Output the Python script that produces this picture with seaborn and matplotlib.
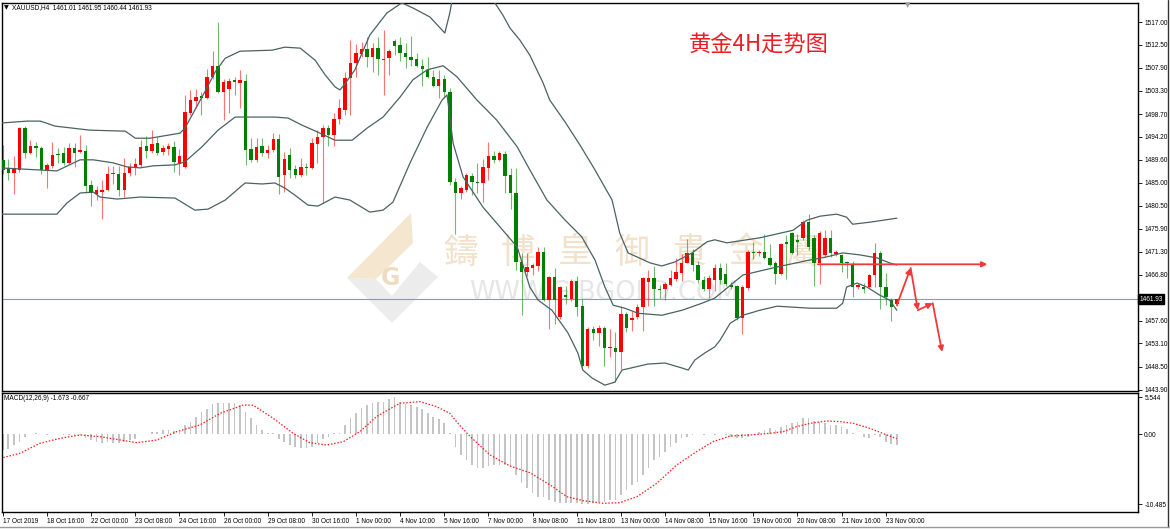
import numpy as np
import pandas as pd
import matplotlib
matplotlib.use("Agg")
import matplotlib.pyplot as plt
import matplotlib.transforms as mtransforms
from matplotlib.patches import Polygon
import seaborn as sns

# XAUUSD H4 candles, bar 0 = oldest (17 Oct 2019)
opens = [1489.6, 1488.0, 1487.0, 1487.6, 1496.0, 1491.0, 1492.4, 1492.0, 1487.6, 1488.4,
         1490.7, 1491.0, 1489.0, 1492.0, 1491.2, 1491.4, 1484.5, 1482.8, 1483.2, 1483.6,
         1486.7, 1486.8, 1483.6, 1487.0, 1488.2, 1488.6, 1492.3, 1491.4, 1493.0, 1491.2,
         1491.8, 1492.2, 1488.8, 1488.2, 1498.9, 1501.2, 1502.2, 1501.9, 1506.0, 1508.3,
         1503.0, 1503.7, 1505.4, 1504.9, 1505.3, 1491.8, 1489.6, 1492.3, 1491.0, 1491.6,
         1493.8, 1486.6, 1490.6, 1487.8, 1486.6, 1488.2, 1488.0, 1492.8, 1494.1, 1496.0,
         1494.6, 1497.7, 1499.5, 1505.9, 1508.8, 1510.6, 1511.6, 1510.0, 1511.8, 1509.4,
         1509.8, 1513.2, 1512.4, 1510.8, 1510.0, 1509.6, 1508.3, 1507.5, 1506.0, 1504.3,
         1505.7, 1503.0, 1485.2, 1483.0, 1483.6, 1486.4, 1485.2, 1485.0, 1488.0, 1490.4,
         1489.6, 1490.8, 1486.6, 1483.0, 1469.3, 1467.3, 1468.0, 1468.4, 1471.2, 1461.7,
         1466.3, 1458.3, 1462.8, 1461.9, 1465.5, 1460.5, 1448.6, 1456.0, 1455.2, 1456.2,
         1452.1, 1452.2, 1451.4, 1459.0, 1457.8, 1458.3, 1460.3, 1465.3, 1466.1, 1464.0,
         1464.0, 1464.7, 1465.9, 1467.1, 1469.1, 1471.1, 1468.7, 1465.7, 1463.9, 1465.7,
         1468.1, 1467.0, 1464.8, 1464.5, 1458.2, 1464.1, 1471.3, 1471.0, 1471.3, 1470.1,
         1469.1, 1467.0, 1473.2, 1475.0, 1473.6, 1474.0, 1477.2, 1474.0, 1469.1, 1470.7,
         1474.0, 1470.9, 1470.7, 1469.3, 1468.7, 1464.3, 1464.3, 1464.3, 1466.7, 1471.1,
         1464.3, 1461.7, 1461.01]
highs = [1492.5, 1489.8, 1490.4, 1496.2, 1496.4, 1493.6, 1493.2, 1492.4, 1489.0, 1493.2,
         1492.0, 1492.2, 1493.0, 1493.0, 1494.6, 1492.5, 1485.5, 1484.4, 1485.6, 1488.4,
         1488.4, 1488.4, 1490.0, 1489.0, 1490.0, 1493.6, 1494.4, 1495.6, 1494.2, 1492.6,
         1493.0, 1493.4, 1491.8, 1502.5, 1503.5, 1503.6, 1503.0, 1507.6, 1511.2, 1517.0,
         1505.6, 1505.8, 1506.0, 1507.5, 1506.6, 1494.0, 1494.0, 1494.0, 1492.6, 1495.0,
         1494.8, 1491.2, 1492.0, 1488.6, 1490.0, 1489.0, 1494.0, 1495.6, 1496.6, 1496.6,
         1499.0, 1501.6, 1507.0, 1513.4, 1512.6, 1513.0, 1514.0, 1512.8, 1514.0, 1515.4,
         1511.6, 1513.6, 1514.0, 1512.8, 1514.2, 1510.8, 1509.6, 1510.0, 1507.4, 1507.5,
         1506.5, 1503.8, 1486.0, 1484.4, 1487.0, 1487.0, 1489.0, 1489.8, 1493.2, 1491.4,
         1491.4, 1491.4, 1488.0, 1488.0, 1471.0, 1471.0, 1469.0, 1472.2, 1472.2, 1466.5,
         1468.0, 1464.6, 1464.6, 1466.0, 1466.6, 1462.0, 1456.4, 1456.6, 1456.8, 1456.6,
         1456.0, 1455.4, 1460.6, 1459.3, 1459.6, 1461.0, 1466.4, 1467.6, 1468.4, 1464.7,
         1465.4, 1467.7, 1470.0, 1470.9, 1473.9, 1471.8, 1469.4, 1466.6, 1466.8, 1468.8,
         1469.0, 1469.0, 1465.4, 1464.8, 1464.8, 1471.6, 1473.2, 1471.6, 1474.8, 1472.9,
         1469.5, 1473.1, 1474.6, 1475.2, 1474.8, 1477.6, 1478.8, 1474.6, 1475.4, 1475.6,
         1475.6, 1471.6, 1470.9, 1469.5, 1469.4, 1465.1, 1465.1, 1467.0, 1473.1, 1471.4,
         1467.1, 1462.1, 1461.95]
lows = [1486.8, 1485.6, 1482.8, 1487.2, 1490.0, 1490.8, 1490.2, 1486.8, 1484.0, 1488.0,
        1489.0, 1488.6, 1488.8, 1488.2, 1491.0, 1483.0, 1480.4, 1481.6, 1477.8, 1483.4,
        1484.8, 1482.4, 1482.2, 1486.4, 1486.6, 1488.2, 1490.0, 1491.0, 1490.6, 1490.6,
        1490.6, 1487.2, 1486.6, 1488.0, 1498.6, 1500.0, 1498.6, 1501.6, 1505.6, 1502.8,
        1497.6, 1499.0, 1502.4, 1500.0, 1488.6, 1489.2, 1489.2, 1490.4, 1490.0, 1491.2,
        1482.8, 1483.2, 1486.0, 1486.0, 1486.2, 1486.6, 1487.8, 1489.0, 1481.0, 1492.4,
        1492.4, 1496.8, 1498.6, 1498.6, 1506.0, 1510.0, 1508.0, 1507.0, 1506.4, 1502.5,
        1506.5, 1510.4, 1509.2, 1507.8, 1508.2, 1508.0, 1504.2, 1505.8, 1504.0, 1501.8,
        1501.8, 1484.6, 1474.8, 1481.8, 1483.2, 1482.6, 1483.0, 1481.2, 1485.6, 1489.0,
        1489.4, 1483.0, 1479.8, 1467.6, 1458.7, 1466.6, 1466.8, 1467.4, 1461.5, 1456.0,
        1457.0, 1458.0, 1461.0, 1461.5, 1458.6, 1448.0, 1448.2, 1453.8, 1452.6, 1448.6,
        1450.4, 1445.4, 1448.0, 1455.4, 1455.6, 1458.0, 1455.6, 1460.5, 1460.5, 1462.2,
        1461.7, 1464.6, 1465.6, 1465.6, 1469.0, 1467.4, 1465.2, 1463.6, 1462.2, 1463.6,
        1465.0, 1464.6, 1463.9, 1457.8, 1455.0, 1463.8, 1469.9, 1470.4, 1469.9, 1468.5,
        1464.9, 1466.7, 1466.0, 1470.8, 1470.6, 1473.6, 1471.6, 1464.5, 1465.0, 1470.3,
        1470.3, 1470.5, 1467.2, 1466.1, 1462.3, 1464.0, 1463.1, 1464.1, 1464.3, 1459.9,
        1460.7, 1457.5, 1460.44]
closes = [1487.6, 1487.0, 1488.0, 1496.0, 1491.0, 1492.3, 1492.0, 1487.6, 1488.6, 1490.6,
          1490.5, 1489.0, 1492.0, 1491.0, 1491.6, 1484.3, 1483.0, 1483.6, 1483.6, 1486.8,
          1486.9, 1483.6, 1487.0, 1488.2, 1488.8, 1492.2, 1491.4, 1492.7, 1491.0, 1492.0,
          1492.4, 1489.2, 1490.4, 1499.1, 1501.5, 1502.0, 1501.8, 1506.0, 1508.3, 1503.0,
          1505.0, 1505.3, 1505.1, 1505.4, 1491.6, 1489.6, 1492.2, 1491.0, 1491.6, 1493.8,
          1486.2, 1489.8, 1487.6, 1486.6, 1488.2, 1488.0, 1493.0, 1494.1, 1496.0, 1494.6,
          1497.7, 1499.9, 1505.9, 1508.8, 1510.8, 1511.6, 1510.0, 1511.8, 1509.6, 1509.6,
          1511.2, 1512.2, 1510.8, 1510.0, 1509.4, 1508.3, 1507.7, 1506.0, 1504.3, 1505.7,
          1503.1, 1485.2, 1483.0, 1484.0, 1486.6, 1485.2, 1485.0, 1488.2, 1490.4, 1489.6,
          1491.0, 1486.4, 1483.0, 1469.3, 1467.3, 1468.3, 1468.6, 1471.2, 1461.7, 1466.3,
          1461.7, 1464.3, 1462.3, 1465.5, 1460.3, 1448.6, 1456.0, 1455.2, 1456.2, 1452.2,
          1452.4, 1451.4, 1459.0, 1456.2, 1458.2, 1460.3, 1466.1, 1466.1, 1464.0, 1463.8,
          1464.9, 1466.1, 1467.3, 1469.1, 1471.1, 1468.7, 1465.7, 1463.9, 1466.1, 1468.1,
          1465.7, 1465.0, 1464.4, 1458.2, 1464.3, 1471.3, 1471.0, 1471.3, 1470.1, 1468.7,
          1467.0, 1472.9, 1472.8, 1471.1, 1473.2, 1477.2, 1472.2, 1469.1, 1475.0, 1474.1,
          1471.1, 1471.3, 1469.1, 1469.0, 1464.3, 1464.7, 1463.9, 1466.7, 1471.1, 1464.3,
          1462.3, 1460.3, 1461.93]

# Bollinger bands (20, 2): (bar, price)
upper_bars = [-0.5, 4.4, 6.8, 9.5, 15.8, 22.2, 24.0, 26.7, 32.1, 33.0, 34.8, 36.6, 38.5, 40.3,
              43.0, 48.8, 51.1, 53.9, 56.6, 58.4, 60.2, 61.1, 62.0, 63.8, 66.5, 69.6, 72.3,
              74.3, 77.4, 80.1, 81.0, 81.6, 84.7, 88.8, 90.6, 91.9, 93.7, 95.5, 97.9, 99.1,
              101.9, 104.6, 107.3, 110.4, 111.8, 113.3, 117.3, 119.4, 121.8, 124.9, 127.6,
              129.0, 131.2, 137.2, 143.2, 145.7, 148.1, 151.1, 152.9, 154.0, 157.1, 162.0]
upper_vals = [1496.9, 1497.3, 1497.3, 1496.3, 1495.5, 1495.3, 1493.9, 1493.9, 1494.9, 1495.9,
              1499.5, 1503.1, 1507.1, 1509.8, 1511.2, 1511.4, 1512.0, 1511.8, 1509.4, 1506.5,
              1504.1, 1503.5, 1504.7, 1507.5, 1514.4, 1518.8, 1520.8, 1519.8, 1518.0, 1514.8,
              1518.8, 1522.4, 1526.0, 1521.4, 1518.4, 1515.8, 1513.4, 1510.4, 1504.9, 1501.5,
              1497.1, 1492.5, 1487.6, 1481.6, 1475.0, 1471.1, 1469.1, 1468.5, 1469.3, 1471.1,
              1473.3, 1473.7, 1473.1, 1474.1, 1475.6, 1477.6, 1478.4, 1478.8, 1478.2, 1476.8,
              1477.2, 1478.0]
middle_bars = [-0.5, 9.8, 14.0, 16.4, 20.0, 22.5, 24.9, 27.2, 31.2, 33.0, 36.1, 39.0, 42.1,
               44.3, 49.3, 51.7, 54.2, 57.1, 60.2, 63.3, 66.0, 68.9, 72.0, 74.3, 76.9, 79.8,
               82.3, 85.9, 89.5, 93.2, 95.5, 98.6, 101.9, 104.9, 107.3, 109.1, 110.6, 112.7,
               115.1, 119.4, 123.1, 126.7, 129.0, 134.1, 140.3, 146.3, 149.3, 152.2, 155.3,
               158.4, 160.7, 162.0]
middle_vals = [1488.0, 1487.4, 1489.6, 1489.6, 1489.0, 1488.2, 1488.0, 1488.4, 1488.6, 1489.2,
               1492.2, 1495.5, 1498.1, 1498.1, 1498.1, 1497.9, 1496.5, 1495.1, 1493.5, 1493.5,
               1495.9, 1498.1, 1502.1, 1505.5, 1507.5, 1508.3, 1506.1, 1501.5, 1497.5, 1492.2,
               1487.6, 1481.6, 1477.6, 1474.3, 1469.7, 1464.3, 1460.7, 1460.1, 1459.1, 1458.7,
               1459.7, 1461.1, 1462.1, 1466.7, 1468.3, 1469.7, 1470.3, 1471.1, 1470.7, 1470.1,
               1469.1, 1468.7]
lower_bars = [-0.5, 9.8, 11.6, 14.0, 16.4, 17.6, 20.7, 24.9, 31.2, 34.8, 37.2, 40.3, 43.9,
              47.0, 49.3, 51.1, 52.9, 55.3, 57.1, 60.2, 62.9, 66.5, 68.9, 70.7, 73.8, 76.9,
              79.6, 80.5, 81.6, 83.4, 87.0, 90.6, 93.2, 95.5, 97.0, 99.5, 102.4, 104.2, 105.1,
              106.8, 109.1, 110.9, 112.2, 116.9, 120.0, 123.1, 124.2, 125.4, 127.2, 129.0,
              130.0, 131.8, 134.1, 137.2, 140.3, 146.3, 151.1, 152.2, 152.9, 154.8, 156.6,
              158.9, 160.7, 162.0]
lower_vals = [1478.8, 1478.8, 1481.0, 1483.0, 1483.2, 1482.2, 1481.8, 1482.2, 1482.0, 1479.6,
              1479.8, 1481.6, 1485.0, 1484.8, 1485.0, 1484.0, 1482.6, 1480.6, 1480.4, 1482.2,
              1481.6, 1479.2, 1479.6, 1481.2, 1489.0, 1496.1, 1501.5, 1502.5, 1492.9, 1486.2,
              1480.2, 1475.6, 1472.3, 1464.3, 1461.7, 1459.7, 1455.2, 1451.2, 1447.8, 1446.2,
              1444.8, 1445.4, 1447.8, 1449.0, 1449.2, 1448.2, 1447.8, 1449.8, 1451.2, 1452.4,
              1453.8, 1457.1, 1458.7, 1459.7, 1460.5, 1460.1, 1460.1, 1461.1, 1464.3, 1465.1,
              1464.3, 1462.7, 1461.7, 1459.7]

# MACD(12,26,9) histogram, one value per bar
macd_hist = [-2.35, -2.2, -1.6, -1.1, -0.35, 0.05, 0.15, 0.1, -0.05, 0.05,
             0.05, -0.05, -0.05, -0.2, -0.05, -0.6, -0.85, -1.1, -1.25, -1.1,
             -1.25, -1.25, -1.1, -0.85, -0.75, 0.05, 0.05, 0.4, 0.4, 0.7,
             0.7, 0.55, 0.4, 1.4, 1.9, 2.65, 3.4, 3.75, 4.55, 4.65,
             4.65, 4.65, 4.65, 4.4, 3.4, 2.4, 1.4, 0.65, 0.25, 0.15,
             -0.75, -1.1, -1.6, -1.95, -2.1, -2.1, -1.85, -1.35, -0.75, -0.35,
             0.15, 0.25, 1.4, 2.4, 3.25, 3.9, 4.4, 4.75, 4.9, 4.9,
             5.3, 5.544, 4.9, 4.55, 4.4, 4.15, 3.75, 3.25, 2.65, 2.25,
             1.65, 0.15, -1.85, -3.1, -3.85, -4.6, -5.1, -5.1, -4.8, -4.6,
             -4.6, -4.6, -4.8, -6.1, -7.35, -8.1, -8.75, -9.35, -9.45, -9.85,
             -10.1, -10.25, -10.25, -10.35, -10.35, -10.485, -10.45, -10.35, -10.1, -10.1,
             -9.85, -9.85, -9.1, -8.35, -7.6, -7.1, -6.1, -5.1, -3.85, -3.35,
             -2.6, -1.95, -1.35, -0.6, -0.35, -0.1, 0.0, -0.1, 0.0, -0.1,
             0.0, -0.15, -0.35, -0.6, -0.6, -0.35, -0.1, 0.4, 0.65, 0.9,
             0.65, 1.15, 1.4, 1.65, 1.9, 2.4, 2.4, 2.05, 1.9, 1.65,
             1.4, 1.4, 1.15, 0.75, 0.25, 0.0, -0.35, -0.6, -0.1, -0.35,
             -1.1, -1.45, -1.673]
signal_bars = [-0.5, 3.1, 6.7, 10.4, 14.0, 17.6, 21.3, 24.3, 27.9, 31.5, 35.7, 39.4, 43.6,
               45.4, 49.0, 52.6, 55.6, 58.7, 61.7, 64.7, 67.7, 71.9, 75.6, 78.6, 81.0, 82.2,
               84.7, 88.3, 91.9, 95.5, 99.2, 102.2, 105.2, 108.8, 111.8, 114.9, 118.5, 122.1,
               125.7, 128.7, 131.8, 135.4, 139.0, 141.4, 143.8, 146.3, 149.3, 151.7, 154.1,
               157.1, 160.2, 162.0]
signal_vals = [-3.6, -2.85, -1.35, -0.6, -0.1, -0.35, -0.85, -1.25, -0.85, 0.4, 1.4, 3.15, 4.4,
               4.35, 2.4, 0.15, -1.25, -1.6, -1.1, 0.4, 2.65, 4.65, 4.9, 4.15, 3.15, 1.9,
               -0.35, -3.1, -4.75, -5.75, -7.6, -9.35, -9.95, -10.35, -10.25, -9.35, -7.35, -4.6,
               -2.6, -1.1, -0.25, -0.1, 0.15, 0.4, 1.15, 1.65, 2.0, 1.9, 1.65,
               0.9, -0.1, -0.667]

tick_bars = list(range(0, 161, 8))
tick_labels = ["17 Oct 2019", "18 Oct 16:00", "22 Oct 00:00", "23 Oct 08:00", "24 Oct 16:00",
               "26 Oct 00:00", "29 Oct 08:00", "30 Oct 16:00", "1 Nov 00:00", "4 Nov 10:00",
               "5 Nov 16:00", "7 Nov 00:00", "8 Nov 08:00", "11 Nov 18:00", "13 Nov 00:00",
               "14 Nov 08:00", "15 Nov 16:00", "19 Nov 00:00", "20 Nov 08:00", "21 Nov 16:00",
               "23 Nov 00:00"]
price_ticks = [1517.00, 1512.50, 1507.90, 1503.30, 1498.70, 1494.20, 1489.60, 1485.00,
               1480.50, 1475.90, 1471.30, 1466.80, 1457.60, 1453.10, 1448.50, 1443.90]
macd_ticks = [5.544, 0.0, -10.485]
macd_tick_labels = ["5.544", "0.00", "-10.485"]

# hand-drawn forecast arrows (bar, price)
resist_bars = [147.2, 178.9]
resist_price = 1468.83
path_bars = [162.0, 164.5, 165.8, 168.5, 170.2]
path_prices = [1460.7, 1468.1, 1459.7, 1461.1, 1451.4]

RED = "#ff0000"
GREEN = "#008000"
BAND = "#4a6262"

sns.set_theme(style="white")
plt.rcParams['font.family'] = ['Liberation Sans', 'Noto Sans CJK SC', 'DejaVu Sans']

df = pd.DataFrame({"open": opens, "high": highs, "low": lows, "close": closes})
df["bar"] = np.arange(len(df))
df["up"] = df["close"] >= df["open"]
df["color"] = np.where(df["up"], RED, GREEN)
df["body_lo"] = df[["open", "close"]].min(axis=1)
df["body_h"] = (df["close"] - df["open"]).abs().clip(lower=0.18)

W, H = 1170, 530
fig = plt.figure(figsize=(11.7, 5.3), dpi=100)
ax = fig.add_axes([1.7 / W, 1 - 391 / H, (1138 - 1.7) / W, (391 - 2.7) / H])
axm = fig.add_axes([1.7 / W, 1 - 511.7 / H, (1138 - 1.7) / W, (511.7 - 392.7) / H])

def fpx(x, y):
    return x / W, 1 - y / H

# watermark (behind candles)
wm_chars = ["鑄", "博", "皇", "御", "貴", "金", "屬"]
for k, ch in enumerate(wm_chars):
    ax.text(*fpx(461 + 57 * k, 253), ch, transform=fig.transFigure, fontsize=25,
            color="#f2e2cc", ha="center", va="center", zorder=0.3,
            family=["Noto Sans CJK TC", "DejaVu Sans"])
ax.text(*fpx(469, 293), "WWW.GIBGOLD.COM", transform=fig.transFigure, fontsize=18.5,
        color="#e6e6e6", ha="left", va="center", zorder=0.3, family=["DejaVu Sans"])
logo_a = [fpx(*p) for p in [(347, 278), (411, 213), (413, 243), (376, 279)]]
logo_b = [fpx(*p) for p in [(347, 278), (392, 323), (438, 277), (420, 262), (392, 296), (376, 279)]]
ax.add_patch(Polygon(logo_a, closed=True, transform=fig.transFigure, fc="#f4e6cf", ec="none", zorder=0.3))
ax.add_patch(Polygon(logo_b, closed=True, transform=fig.transFigure, fc="#ececec", ec="none", zorder=0.3))
ax.text(*fpx(391, 278), "G", transform=fig.transFigure, fontsize=17, fontweight="bold",
        color="#efdcc0", ha="center", va="center", zorder=0.35, family=["DejaVu Sans"])

# candles
ax.vlines(df["bar"], df["low"], df["high"], colors=df["color"], linewidth=0.8, alpha=0.55, zorder=2)
ax.bar(df["bar"], df["body_h"], bottom=df["body_lo"], width=0.62, color=df["color"],
       linewidth=0, zorder=3)

# Bollinger bands
for xb, yv in [(upper_bars, upper_vals), (middle_bars, middle_vals), (lower_bars, lower_vals)]:
    sns.lineplot(x=xb, y=yv, ax=ax, color=BAND, linewidth=0.9, estimator=None, sort=False, zorder=4)

last = df.iloc[-1]
ax.axhline(last["close"], color="#8a9cb0", linewidth=0.8, zorder=1)

# red arrows
ax.annotate("", xy=(resist_bars[1], resist_price), xytext=(resist_bars[0], resist_price),
            arrowprops=dict(arrowstyle="-|>", color="#f03a3a", lw=1.3, mutation_scale=8), zorder=6)
for k in range(len(path_bars) - 1):
    ax.annotate("", xy=(path_bars[k + 1], path_prices[k + 1]), xytext=(path_bars[k], path_prices[k]),
                arrowprops=dict(arrowstyle="-|>", color="#f03a3a", lw=1.3, mutation_scale=8,
                                shrinkA=0, shrinkB=0), zorder=6)

ax.set_xlim(-0.2, 205.7)
ax.set_ylim(1443.64, 1520.84)
ax.yaxis.tick_right()
ax.set_yticks(price_ticks)
ax.set_yticklabels([f"{p:.2f}" for p in price_ticks])
ax.tick_params(axis="y", direction="out", length=3, width=0.6, pad=1.5, labelsize=4.7,
               colors="black", right=True)
ax.tick_params(axis="x", bottom=False, labelbottom=False)
ax.set_xlabel("")
ax.set_ylabel("")

trans = mtransforms.blended_transform_factory(ax.transAxes, ax.transData)
ax.text(1.0012, last["close"], f"{last['close']:.2f}", transform=trans, ha="left", va="center",
        fontsize=4.7, color="white",
        bbox=dict(boxstyle="square,pad=0.25", fc="black", ec="black"), zorder=7, clip_on=False)

# MACD panel
axm.bar(df["bar"], macd_hist, width=0.3, color="#c4c4c4", linewidth=0, zorder=2)
sns.lineplot(x=signal_bars, y=signal_vals, ax=axm, color="#ff1a1a", linewidth=0.9,
             estimator=None, sort=False, zorder=3)
axm.lines[-1].set_linestyle((0, (1.2, 1.4)))
axm.set_xlim(-0.2, 205.7)
axm.set_ylim(-11.6, 6.24)
axm.yaxis.tick_right()
axm.set_yticks(macd_ticks)
axm.set_yticklabels(macd_tick_labels)
axm.set_xticks(tick_bars)
axm.set_xticklabels(tick_labels)
for lbl in axm.get_xticklabels():
    lbl.set_horizontalalignment("left")
axm.tick_params(axis="y", direction="out", length=3, width=0.6, pad=1.5, labelsize=4.7,
                colors="black", right=True)
axm.tick_params(axis="x", direction="out", length=3, width=0.6, pad=1.5, labelsize=4.7,
                colors="black", bottom=True)
axm.set_xlabel("")
axm.set_ylabel("")

for a in (ax, axm):
    for s in a.spines.values():
        s.set_color("black")
        s.set_linewidth(1.0)
    a.set_facecolor("white")

# texts
fig.text(*fpx(4, 8), "▼", fontsize=4.5, color="black", ha="left", va="center",
         family=["DejaVu Sans"])
fig.text(*fpx(12, 8), f"XAUUSD,H4  {last['open']:.2f} {last['high']:.2f} {last['low']:.2f} {last['close']:.2f}",
         fontsize=4.7, color="black", ha="left", va="center")
fig.text(*fpx(4, 398), f"MACD(12,26,9) {macd_hist[-1]:.3f} {signal_vals[-1]:.3f}",
         fontsize=4.7, color="black", ha="left", va="center")
fig.text(*fpx(908, 5), "▼", fontsize=5, color="#9a9a9a", ha="center", va="center",
         family=["DejaVu Sans"])
fig.text(*fpx(759, 45), "黄金4H走势图", fontsize=16, color="#ee1c25", ha="center", va="center",
         family=["Noto Sans CJK SC", "DejaVu Sans"])

fig.add_artist(plt.Line2D([1168 / W, 1168 / W], [1 - 527 / H, 1], transform=fig.transFigure,
                          color="#333333", lw=1))
fig.add_artist(plt.Line2D([0, 1], [1 - 527 / H, 1 - 527 / H], transform=fig.transFigure,
                          color="#999999", lw=1))

fig.savefig("out.png", dpi=100, facecolor="white")
